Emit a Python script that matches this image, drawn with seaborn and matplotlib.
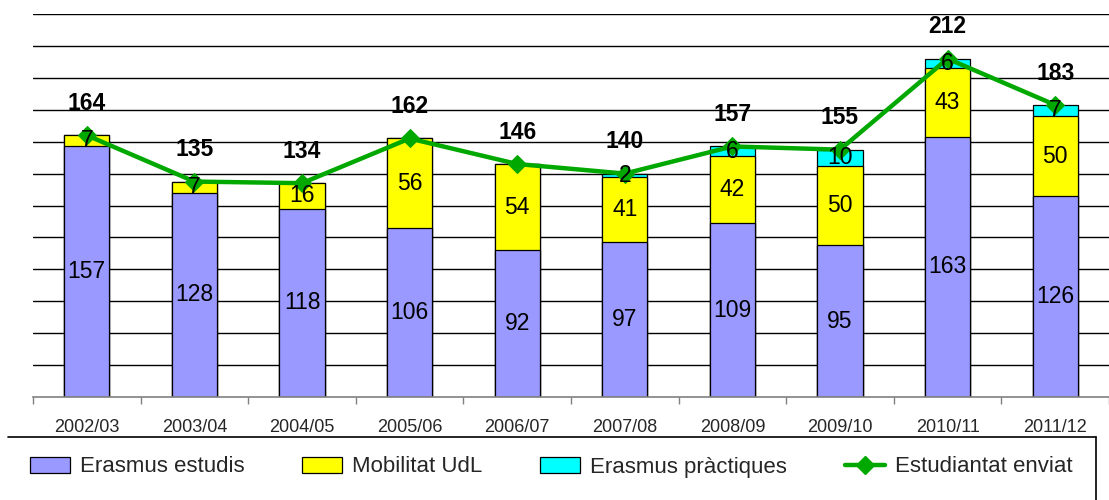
import numpy as np
import pandas as pd
import matplotlib
matplotlib.use("Agg")
import matplotlib.pyplot as plt
import seaborn as sns
from matplotlib.lines import Line2D
from matplotlib.patches import Patch

years = ["2002/03", "2003/04", "2004/05", "2005/06", "2006/07",
         "2007/08", "2008/09", "2009/10", "2010/11", "2011/12"]
erasmus_estudis = [157, 128, 118, 106, 92, 97, 109, 95, 163, 126]
mobilitat_udl = [7, 7, 16, 56, 54, 41, 42, 50, 43, 50]
erasmus_practiques = [0, 0, 0, 0, 0, 2, 6, 10, 6, 7]
estudiantat_enviat = [164, 135, 134, 162, 146, 140, 157, 155, 212, 183]

c_est = "#9999FF"
c_mob = "#FFFF00"
c_pra = "#00FFFF"
c_line = "#00A800"

sns.set_theme(style="white")
plt.rcParams["font.family"] = ["Liberation Sans", "DejaVu Sans"]

fig = plt.figure(figsize=(11.09, 5.0), dpi=100)
ax = fig.add_axes([33 / 1109, 1 - 397 / 500, 1 - 33 / 1109, (397 - 14) / 500])

df = pd.DataFrame({"year": years, "est": erasmus_estudis, "mob": mobilitat_udl,
                   "pra": erasmus_practiques, "tot": estudiantat_enviat})
df["c1"] = df["est"]
df["c2"] = df["est"] + df["mob"]
df["c3"] = df["c2"] + df["pra"]

bw = 0.42
for col, color in [("c3", c_pra), ("c2", c_mob), ("c1", c_est)]:
    sns.barplot(data=df, x="year", y=col, color=color, width=bw, ax=ax,
                edgecolor="black", linewidth=0.9, saturation=1, zorder=2)

x = np.arange(len(years))
sns.lineplot(x=x, y=df["tot"].values, ax=ax, color=c_line, linewidth=3.2,
             marker="D", markersize=9, markeredgecolor=c_line, zorder=4,
             sort=False)

# segment labels
for i in range(len(years)):
    segs = [(0, erasmus_estudis[i]),
            (erasmus_estudis[i], mobilitat_udl[i]),
            (erasmus_estudis[i] + mobilitat_udl[i], erasmus_practiques[i])]
    for b, v in segs:
        if v > 0:
            ax.text(i, b + v / 2, str(v), ha="center", va="center",
                    fontsize=16.5, color="black", zorder=5)
    ax.annotate(str(estudiantat_enviat[i]), (i, estudiantat_enviat[i]),
                xytext=(0, 23), textcoords="offset points", ha="center",
                va="center", fontsize=16.5, fontweight="bold", color="black",
                zorder=5)

ax.set_ylim(0, 240)
ax.set_xlim(-0.5, len(years) - 0.5)
ax.set_yticks(np.arange(20, 241, 20))
ax.set_yticklabels([])
ax.tick_params(axis="y", length=0)
ax.grid(axis="y", color="black", linewidth=1.0, zorder=0)
ax.set_axisbelow(True)
ax.set_xlabel("")
ax.set_ylabel("")

ax.set_xticks(np.arange(-0.5, len(years), 1.0))
ax.set_xticklabels([])
ax.set_xticks(x, minor=True)
ax.set_xticklabels(years, minor=True, fontsize=13)
ax.tick_params(axis="x", which="major", length=5, width=1, color="#808080",
               direction="out", bottom=True)
ax.tick_params(axis="x", which="minor", length=0, pad=16)

for s in ["left", "top", "right"]:
    ax.spines[s].set_visible(False)
ax.spines["bottom"].set_color("#808080")
ax.spines["bottom"].set_linewidth(1.2)

handles = [Patch(facecolor=c_est, edgecolor="black", linewidth=0.9),
           Patch(facecolor=c_mob, edgecolor="black", linewidth=0.9),
           Patch(facecolor=c_pra, edgecolor="black", linewidth=0.9),
           Line2D([0], [0], color=c_line, linewidth=3.2, marker="D",
                  markersize=9)]
labels = ["Erasmus estudis", "Mobilitat UdL", "Erasmus pràctiques",
          "Estudiantat enviat"]
fig.legend(handles, labels, loc="center left",
           bbox_to_anchor=(30 / 1109, 1 - 467 / 500), ncol=4, frameon=False,
           fontsize=16, handlelength=1.8, handletextpad=0.45,
           columnspacing=2.6, borderpad=0, borderaxespad=0)

# legend frame (partly outside the figure)
fig.add_artist(Line2D([8 / 1109, 1096 / 1109], [1 - 437 / 500, 1 - 437 / 500],
                      color="black", linewidth=1.2, transform=fig.transFigure))
fig.add_artist(Line2D([1096 / 1109, 1096 / 1109], [1 - 437 / 500, 0],
                      color="black", linewidth=1.2, transform=fig.transFigure))

fig.savefig("out.png", dpi=100)
